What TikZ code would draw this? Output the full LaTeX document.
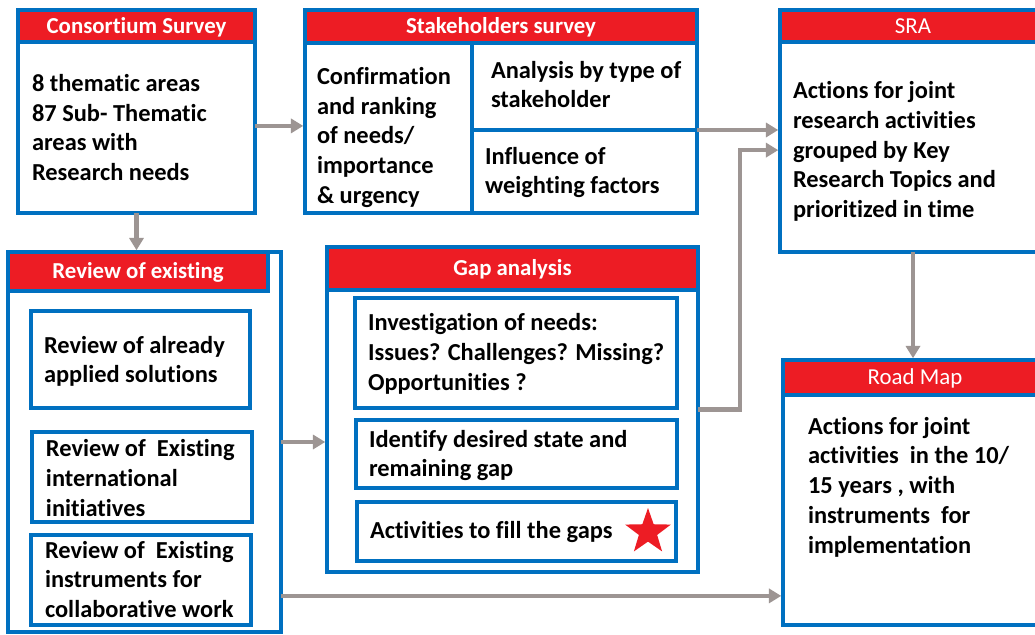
\documentclass[tikz,border=0pt]{standalone}
\usepackage{fontspec}
\setmainfont{Carlito}[Ligatures=NoCommon]
\usepackage{tikz}
\usetikzlibrary{calc,shapes,arrows.meta}
\definecolor{boxblue}{HTML}{0070C0}
\definecolor{headred}{HTML}{ED1C24}
\definecolor{flowgray}{HTML}{9D9593}
\newcommand{\px}{0.02cm}

\begin{document}
\begin{tikzpicture}[x=0.02cm,y=-0.02cm]
          \tikzstyle{every node}=[inner sep=0pt,outer sep=0pt]
          \tikzstyle{frame}=[draw=boxblue,line width=2.3pt,fill=white,rectangle,anchor=north west]
          \tikzstyle{head}=[frame,fill=headred,text=white,text height=0.8em,text depth=0pt,font=\fontsize{13}{16}\selectfont\bfseries]
          \tikzstyle{headlight}=[head,font=\fontsize{13}{16}\selectfont]
          \tikzstyle{txt}=[anchor=west,align=left,font=\fontsize{13.9}{16.9}\selectfont\bfseries]
          \tikzstyle{flow}=[draw=flowgray,line width=2.5pt,shorten >=1pt,-{Triangle[length=7pt,width=8pt]}]

          \useasboundingbox (0,0) rectangle (1035,635);
          \fill[white] (0,0) rectangle (1035,635);

          % consortium survey
          \node[frame,minimum width=237*\px,minimum height=203*\px] (cons) at (18,10) {};
          \node[head,minimum width=237*\px,minimum height=32*\px] (consH) at (18,10) {Consortium Survey};
          \node[txt] (consT) at (32,127.5) {8 thematic areas\\87 Sub- Thematic\\areas with\\Research needs};

          % stakeholders survey
          \node[frame,minimum width=392*\px,minimum height=203*\px] (stake) at (305,10) {};
          \node[frame,minimum width=167*\px,minimum height=170*\px] (stakeL) at (305,43) {};
          \node[frame,minimum width=225*\px,minimum height=87*\px] (stakeA) at (472,43) {};
          \node[frame,minimum width=225*\px,minimum height=83*\px] (stakeB) at (472,130) {};
          \node[head,minimum width=392*\px,minimum height=33*\px] (stakeH) at (305,10) {Stakeholders survey};
          \node[txt] (stakeLT) at (317,137.5) {Confirmation\\and ranking\\of needs/\\importance\\\& urgency};
          \node[txt] (stakeAT) at (491,84.5) {Analysis by type of\\stakeholder};
          \node[txt] (stakeBT) at (485,172.5) {Influence of\\weighting factors};

          % SRA
          \node[frame,minimum width=266*\px,minimum height=242*\px] (sra) at (780,10) {};
          \node[headlight,minimum width=266*\px,minimum height=32*\px] (sraH) at (780,10) {SRA};
          \node[txt] (sraT) at (793,151.5) {Actions for joint\\research activities\\grouped by Key\\Research Topics and\\prioritized in time};

          % review of existing
          \node[frame,minimum width=273*\px,minimum height=380*\px] (rev) at (8,252) {};
          \node[head,minimum width=260*\px,minimum height=39*\px] (revH) at (8,252) {Review of existing};
          \node[frame,minimum width=219*\px,minimum height=97*\px] (revA) at (31,311) {};
          \node[frame,minimum width=220*\px,minimum height=90*\px] (revB) at (32,432) {};
          \node[frame,minimum width=220*\px,minimum height=90*\px] (revC) at (31,535) {};
          \node[txt] (revAT) at (44,361.5) {Review of already\\applied solutions};
          \node[txt] (revBT) at (46,478) {Review of\ \ Existing\\international\\initiatives};
          \node[txt] (revCT) at (45,579.5) {Review of\ \ Existing\\instruments for\\collaborative work};

          % gap analysis
          \node[frame,minimum width=371*\px,minimum height=325*\px] (gap) at (327,247) {};
          \node[head,minimum width=371*\px,minimum height=43*\px] (gapH) at (327,247) {Gap analysis};
          \node[frame,minimum width=322*\px,minimum height=110*\px] (gapA) at (355,298) {};
          \node[frame,minimum width=321*\px,minimum height=68*\px] (gapB) at (356,420) {};
          \node[frame,minimum width=319*\px,minimum height=59*\px] (gapC) at (357,502) {};
          \node[txt] (gapAT) at (368,354) {Investigation of needs:\\Issues? Challenges? Missing?\\Opportunities ?};
          \node[txt] (gapBT) at (369,455.5) {Identify desired state and\\remaining gap};
          \node[txt] (gapCT) at (370,532) {Activities to fill the gaps};
          \node[star,star points=5,star point ratio=2.5,fill=headred,minimum size=48*\px] (gapStar) at (648,532) {};

          % road map
          \node[frame,minimum width=264*\px,minimum height=265*\px] (road) at (783,360) {};
          \node[headlight,minimum width=264*\px,minimum height=35*\px] (roadH) at (783,360) {Road Map};
          \node[txt] (roadT) at (808,487) {Actions for joint\\activities\ \ in the 10/\\15 years , with\\instruments\ \ for\\implementation};

          % fleches
          \draw[flow] ($(cons.north east)!.571!(cons.south east)$) coordinate (c1) -- (c1 -| stake.west);
          \draw[flow] (cons.south) -- (cons.south |- rev.north);
          \draw[flow] (stakeA.south east) -- (stakeA.south east -| sra.west);
          \draw[flow] (gap.east) -- ++(42,0) |- ($(sra.north west)!.579!(sra.south west)$);
          \draw[flow] (rev.east) -- (rev.east -| gap.west);
          \draw[flow] ($(rev.north east)!.905!(rev.south east)$) coordinate (c2) -- (c2 -| road.west);
          \draw[flow] (sra.south) -- (sra.south |- road.north);
        \end{tikzpicture}
\end{document}
